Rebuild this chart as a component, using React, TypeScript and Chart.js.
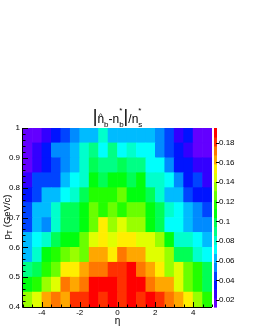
import React, { useEffect, useRef } from 'react';
import { Chart, registerables } from 'chart.js';

Chart.register(...registerables);

// ---- data -------------------------------------------------------------
const etaCenters = [-4.75, -4.25, -3.75, -3.25, -2.75, -2.25, -1.75, -1.25, -0.75, -0.25,
  0.25, 0.75, 1.25, 1.75, 2.25, 2.75, 3.25, 3.75, 4.25, 4.75];
const ptEdges = [0.4, 0.45, 0.5, 0.55, 0.6, 0.65, 0.7, 0.75, 0.8, 0.85, 0.9, 0.95, 1.0];

const pt040 = [0.1359, 0.1450, 0.1632, 0.1723, 0.1632, 0.1814, 0.1814, 0.1905, 0.1814, 0.1905, 0.1814, 0.1905, 0.1814, 0.1905, 0.1814, 0.1723, 0.1632, 0.1541, 0.1359, 0.1177];
const pt045 = [0.1086, 0.1177, 0.1359, 0.1450, 0.1723, 0.1632, 0.1723, 0.1905, 0.1905, 0.1905, 0.1814, 0.1905, 0.1905, 0.1723, 0.1632, 0.1632, 0.1450, 0.1268, 0.1177, 0.0995];
const pt050 = [0.0904, 0.0995, 0.1177, 0.1268, 0.1541, 0.1541, 0.1632, 0.1723, 0.1723, 0.1814, 0.1814, 0.1905, 0.1723, 0.1632, 0.1541, 0.1359, 0.1450, 0.1268, 0.1177, 0.0995];
const pt055 = [0.0631, 0.0813, 0.1086, 0.1177, 0.1268, 0.1359, 0.1268, 0.1632, 0.1632, 0.1541, 0.1723, 0.1632, 0.1632, 0.1450, 0.1450, 0.1359, 0.0995, 0.0995, 0.0813, 0.0722];
const pt060 = [0.0631, 0.0722, 0.0813, 0.0995, 0.1086, 0.1086, 0.1268, 0.1450, 0.1541, 0.1450, 0.1541, 0.1541, 0.1450, 0.1450, 0.1359, 0.1086, 0.0813, 0.0813, 0.0722, 0.0631];
const pt065 = [0.0449, 0.0631, 0.0540, 0.0813, 0.0995, 0.0995, 0.1086, 0.1268, 0.1541, 0.1359, 0.1450, 0.1359, 0.1359, 0.1086, 0.0995, 0.0722, 0.0722, 0.0631, 0.0540, 0.0540];
const pt070 = [0.0449, 0.0631, 0.0631, 0.0813, 0.0995, 0.0995, 0.1086, 0.1268, 0.1177, 0.1268, 0.1177, 0.1268, 0.1268, 0.1086, 0.0995, 0.0813, 0.0722, 0.0631, 0.0540, 0.0449];
const pt075 = [0.0358, 0.0449, 0.0631, 0.0631, 0.0722, 0.0813, 0.0995, 0.1177, 0.1177, 0.1177, 0.1268, 0.1086, 0.1086, 0.0995, 0.0813, 0.0631, 0.0631, 0.0449, 0.0358, 0.0358];
const pt080 = [0.0267, 0.0449, 0.0449, 0.0449, 0.0631, 0.0722, 0.0813, 0.1086, 0.0995, 0.1086, 0.1086, 0.0995, 0.1086, 0.0813, 0.0813, 0.0722, 0.0540, 0.0358, 0.0449, 0.0267];
const pt085 = [0.0176, 0.0267, 0.0358, 0.0449, 0.0540, 0.0631, 0.0813, 0.0995, 0.0904, 0.0904, 0.0995, 0.0904, 0.0904, 0.0722, 0.0722, 0.0540, 0.0358, 0.0358, 0.0267, 0.0267];
const pt090 = [0.0176, 0.0267, 0.0358, 0.0540, 0.0540, 0.0631, 0.0813, 0.0904, 0.0722, 0.0904, 0.0722, 0.0813, 0.0722, 0.0722, 0.0540, 0.0449, 0.0358, 0.0267, 0.0176, 0.0176];
const pt095 = [0.0176, 0.0176, 0.0267, 0.0358, 0.0449, 0.0540, 0.0631, 0.0631, 0.0813, 0.0631, 0.0631, 0.0631, 0.0631, 0.0631, 0.0540, 0.0449, 0.0267, 0.0358, 0.0176, 0.0176];

const rows = [pt040, pt045, pt050, pt055, pt060, pt065, pt070, pt075, pt080, pt085, pt090, pt095];

const zMin = 0.013;
const zMax = 0.195;
const nContours = 20;
const nPalette = 50;

// ---- styling helpers --------------------------------------------------
const FONT = "'Liberation Sans', Arial, Helvetica, sans-serif";

function colorFor(z: number): string {
  let k = Math.floor(((z - zMin) / (zMax - zMin)) * nContours);
  k = Math.max(0, Math.min(nContours - 1, k));
  const idx = Math.floor(((k + 0.99) * nPalette) / nContours);
  const hue = 280 - (idx + 1) * (280 / nPalette);
  return `hsl(${hue.toFixed(1)}, 100%, 50%)`;
}

const decorPlugin = {
  id: 'decor',
  afterDatasetsDraw(chart: any) {
    const { ctx, chartArea: a, scales } = chart;
    const xs = scales.x;
    const ys = scales.y;
    const zs = scales.zc;
    ctx.save();

    // colour bar
    const barL = a.right + 2;
    const barW = 3;
    for (let k = 0; k < nContours; k++) {
      const v0 = zMin + ((zMax - zMin) * k) / nContours;
      const v1 = zMin + ((zMax - zMin) * (k + 1)) / nContours;
      const p0 = zs.getPixelForValue(v0);
      const p1 = zs.getPixelForValue(v1);
      ctx.fillStyle = colorFor((v0 + v1) / 2);
      ctx.fillRect(barL, p1, barW, p0 - p1 + 0.6);
    }
    ctx.strokeStyle = '#000';
    ctx.lineWidth = 1;
    ctx.beginPath();
    for (const t of zs.ticks) {
      const p = Math.round(zs.getPixelForValue(t.value)) + 0.5;
      ctx.moveTo(barL + barW - 1, p);
      ctx.lineTo(barL + barW + 2, p);
    }
    ctx.stroke();

    // axis lines
    ctx.beginPath();
    ctx.moveTo(a.left - 0.5, a.top);
    ctx.lineTo(a.left - 0.5, a.bottom + 0.5);
    ctx.lineTo(a.right, a.bottom + 0.5);
    ctx.stroke();

    // y ticks (inside)
    ctx.beginPath();
    for (let i = 0; i <= 30; i++) {
      const v = 0.4 + i * 0.02;
      const p = Math.round(ys.getPixelForValue(v)) + 0.5;
      const len = i % 5 === 0 ? 5 : 2.5;
      ctx.moveTo(a.left, p);
      ctx.lineTo(a.left + len, p);
    }
    ctx.stroke();

    // x ticks (inside)
    ctx.beginPath();
    for (let i = 0; i <= 20; i++) {
      const v = -5 + i * 0.5;
      const p = Math.round(xs.getPixelForValue(v)) + 0.5;
      const len = (v % 2 === 0) ? 5 : 2.5;
      ctx.moveTo(p, a.bottom);
      ctx.lineTo(p, a.bottom - len);
    }
    ctx.stroke();
    ctx.restore();
  },
  afterDraw(chart: any) {
    const { ctx, chartArea: a } = chart;
    ctx.save();
    ctx.fillStyle = '#000';
    ctx.textAlign = 'left';
    ctx.textBaseline = 'alphabetic';

    // title |n̂_b - n_b^*| / n_s^*
    const parts = [
      { t: '|', size: 18, dy: -1 },
      { t: 'n', size: 12, dy: 0, hat: true },
      { t: 'b', size: 8, dy: 3.5 },
      { t: '-', size: 12, dy: 0 },
      { t: 'n', size: 12, dy: 0 },
      { t: 'b', size: 8, dy: 3.5, star: true },
      { t: '|', size: 18, dy: -1 },
      { t: '/', size: 12, dy: 0 },
      { t: 'n', size: 12, dy: 0 },
      { t: 's', size: 8, dy: 3.5, star: true },
    ];
    let total = 0;
    const widths: number[] = [];
    for (const p of parts) {
      ctx.font = `${p.size}px ${FONT}`;
      const w = ctx.measureText(p.t).width;
      widths.push(w);
      total += w;
    }
    const base = 123;
    let x = (a.left + a.right) / 2 - total / 2;
    parts.forEach((p: any, i) => {
      ctx.font = `${p.size}px ${FONT}`;
      ctx.fillText(p.t, x, base + p.dy);
      if (p.hat) {
        ctx.font = `8px ${FONT}`;
        const hw = ctx.measureText('^').width;
        ctx.fillText('^', x + widths[i] / 2 - hw / 2, base - 5.5);
      }
      if (p.star) {
        ctx.font = `8px ${FONT}`;
        ctx.fillText('*', x, base - 10.5);
      }
      x += widths[i];
    });

    // x-axis title
    ctx.font = `10px ${FONT}`;
    ctx.textAlign = 'center';
    ctx.textBaseline = 'middle';
    ctx.fillText('η', (a.left + a.right) / 2, 321);

    // y-axis title p_T (GeV/c)
    ctx.save();
    ctx.translate(10, 217);
    ctx.rotate(-Math.PI / 2);
    ctx.textBaseline = 'alphabetic';
    ctx.textAlign = 'left';
    const yParts = [
      { t: 'p', size: 9.5, dy: 0 },
      { t: 'T', size: 7, dy: 2 },
      { t: ' (GeV/c)', size: 9.5, dy: 0 },
    ];
    let tw = 0;
    const yw: number[] = [];
    for (const p of yParts) {
      ctx.font = `${p.size}px ${FONT}`;
      const w = ctx.measureText(p.t).width;
      yw.push(w);
      tw += w;
    }
    let yx = -tw / 2;
    yParts.forEach((p, i) => {
      ctx.font = `${p.size}px ${FONT}`;
      ctx.fillText(p.t, yx, p.dy);
      yx += yw[i];
    });
    ctx.restore();
    ctx.restore();
  },
};

export default function App() {
  const ref = useRef<HTMLCanvasElement | null>(null);

  useEffect(() => {
    if (!ref.current) return;
    Chart.defaults.font.family = FONT;
    Chart.defaults.color = '#000';

    const datasets = rows.map((row, r) => ({
      data: row.map((z, c) => ({ x: etaCenters[c], y: [ptEdges[r], ptEdges[r + 1]] })),
      backgroundColor: row.map(colorFor),
      borderWidth: 0,
      grouped: false,
      barPercentage: 1,
      categoryPercentage: 1,
    }));

    const chart = new Chart(ref.current, {
      type: 'bar',
      data: { datasets } as any,
      options: {
        animation: false,
        responsive: false,
        devicePixelRatio: 1,
        layout: { padding: { top: 128, left: 0, right: 0, bottom: 0 } },
        plugins: {
          legend: { display: false },
          tooltip: { enabled: false },
          title: { display: false },
        },
        scales: {
          x: {
            type: 'linear',
            min: -5,
            max: 5,
            offset: false,
            grid: { display: false, drawTicks: false, offset: false },
            border: { display: false },
            ticks: {
              stepSize: 1,
              autoSkip: false,
              maxRotation: 0,
              padding: 0.5,
              font: { size: 8 },
              callback: (v: any) => (Number(v) % 2 === 0 && Math.abs(Number(v)) < 5 ? String(v) : ''),
            },
            afterFit: (s: any) => { s.height = 23; },
          },
          y: {
            type: 'linear',
            min: 0.4,
            max: 1.0,
            beginAtZero: false,
            grid: { display: false, drawTicks: false },
            border: { display: false },
            ticks: {
              stepSize: 0.1,
              autoSkip: false,
              padding: 3,
              font: { size: 8 },
              callback: (v: any) => String(Math.round(Number(v) * 10) / 10),
            },
            afterFit: (s: any) => { s.width = 23; },
          },
          zc: {
            type: 'linear',
            axis: 'y',
            position: 'right',
            display: true,
            min: zMin,
            max: zMax,
            grid: { display: false, drawTicks: false },
            border: { display: false },
            ticks: {
              stepSize: 0.02,
              includeBounds: false,
              autoSkip: false,
              padding: 7,
              font: { size: 8 },
              callback: (v: any) => String(Math.round(Number(v) * 100) / 100),
            },
            afterFit: (s: any) => { s.width = 43; },
          },
        },
      } as any,
      plugins: [decorPlugin],
    });
    return () => chart.destroy();
  }, []);

  return (
    <div style={{ position: 'absolute', left: 0, top: 0, width: 255, height: 330, background: '#fff' }}>
      <canvas ref={ref} width={255} height={330} style={{ display: 'block', width: 255, height: 330 }} />
    </div>
  );
}
